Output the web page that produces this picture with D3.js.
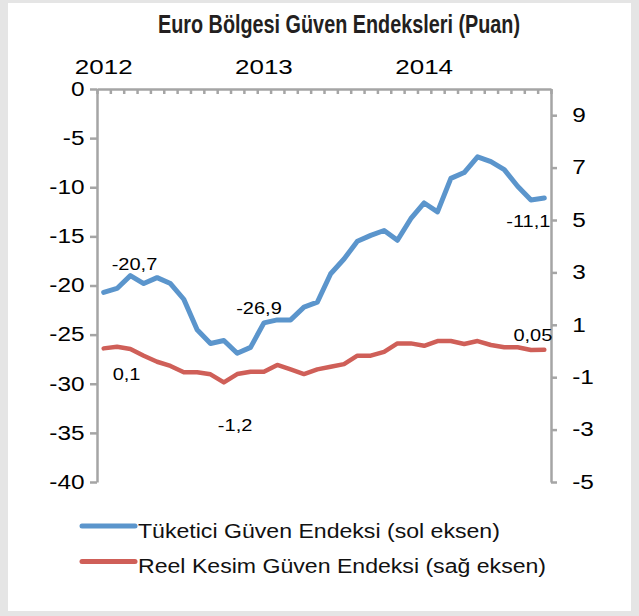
<!DOCTYPE html>
<html>
<head>
<meta charset="utf-8">
<script src="https://cdn.jsdelivr.net/npm/d3@7"></script>
<style>
  body { margin: 0; background: #fff; }
  text { font-family: "Liberation Sans", Arial, sans-serif; fill: #000; }
</style>
</head>
<body>
<script>
// monthly data, Jan 2012 - Oct 2014
const months = [
  "2012-01","2012-02","2012-03","2012-04","2012-05","2012-06","2012-07","2012-08","2012-09","2012-10","2012-11","2012-12",
  "2013-01","2013-02","2013-03","2013-04","2013-05","2013-06","2013-07","2013-08","2013-09","2013-10","2013-11","2013-12",
  "2014-01","2014-02","2014-03","2014-04","2014-05","2014-06","2014-07","2014-08","2014-09","2014-10"
];
// Tüketici Güven Endeksi (sol eksen)
const consumer = [-20.7,-20.3,-19.0,-19.8,-19.2,-19.8,-21.4,-24.5,-25.9,-25.6,-26.9,-26.3,
  -23.8,-23.5,-23.5,-22.2,-21.7,-18.8,-17.3,-15.5,-14.9,-14.4,-15.4,-13.2,
  -11.6,-12.5,-9.1,-8.5,-6.9,-7.4,-8.2,-9.9,-11.3,-11.1];
// Reel Kesim Güven Endeksi (sağ eksen)
const industry = [0.1,0.16,0.08,-0.18,-0.41,-0.57,-0.81,-0.81,-0.89,-1.2,-0.88,-0.79,
  -0.79,-0.53,-0.7,-0.88,-0.7,-0.6,-0.5,-0.18,-0.18,-0.03,0.29,0.29,
  0.2,0.38,0.38,0.27,0.38,0.23,0.14,0.14,0.04,0.05];
const yearLabels = [["2012-01","2012"],["2013-01","2013"],["2014-01","2014"]];
const leftTicks = [0,-5,-10,-15,-20,-25,-30,-35,-40];
const rightTicks = [9,7,5,3,1,-1,-3,-5];
const seriesNames = ["Tüketici Güven Endeksi (sol eksen)","Reel Kesim Güven Endeksi (sağ eksen)"];
const colors = ["#5b95cc","#cf5f58"];

const W = 639, H = 616;
const plot = {left: 97, right: 551, top: 89, bottom: 482};
const stretch = 1.25; // the text in the original is drawn wide

const svg = d3.select("body").append("svg")
    .attr("width", W)
    .attr("height", H);

// grey frame
svg.append("rect").attr("width", W).attr("height", H).attr("fill", "#e5e5e5");
svg.append("rect").attr("x", 8).attr("y", 3).attr("width", 623).attr("height", 608).attr("fill", "#fff");

// title
svg.append("text")
    .attr("x", 339).attr("y", 33)
    .attr("text-anchor", "middle")
    .attr("textLength", 362)
    .attr("lengthAdjust", "spacingAndGlyphs")
    .style("font-family", "'Liberation Sans Narrow', 'Arial Narrow', 'Liberation Sans', sans-serif")
    .style("font-weight", "bold")
    .style("font-size", "25px")
    .style("fill", "#231f20")
    .text("Euro Bölgesi Güven Endeksleri (Puan)");

// scales
const x = d3.scaleBand().domain(months).range([plot.left, plot.right]);
const cx = d => x(d) + x.bandwidth() / 2;
const xi = d3.scaleLinear().domain([0, months.length]).range([plot.left, plot.right]);
const yL = d3.scaleLinear().domain([-40, 0]).range([plot.bottom, plot.top]);
const yR = d3.scaleLinear().domain([-5, 10]).range([plot.bottom, plot.top]);

const axisColor = "#a5a5a5";
const plain = d => String(d); // hyphen minus, as in the original
function styleAxis(g) {
  g.selectAll("path, line").attr("stroke", axisColor).attr("stroke-width", 2.5);
  g.selectAll("text")
      .attr("fill", "#000")
      .style("font-size", "19.5px")
      .attr("transform", `scale(${stretch},1)`);
}

// top axis with month ticks
svg.append("g")
    .attr("transform", `translate(0,${plot.top})`)
    .call(d3.axisBottom(xi).tickValues(d3.range(months.length + 1)).tickSize(5).tickSizeOuter(0).tickFormat(""))
    .call(styleAxis);

// left axis
svg.append("g")
    .attr("transform", `translate(${plot.left},0)`)
    .call(d3.axisLeft(yL).tickValues(leftTicks).tickSize(7).tickSizeOuter(0).tickPadding(3).tickFormat(plain))
    .call(styleAxis);

// right axis
svg.append("g")
    .attr("transform", `translate(${plot.right},0)`)
    .call(d3.axisRight(yR).tickValues(rightTicks).tickSize(6).tickSizeOuter(0).tickPadding(11).tickFormat(plain))
    .call(styleAxis);

// year labels above the top axis
svg.selectAll(".year")
    .data(yearLabels)
    .join("text")
    .attr("class", "year")
    .attr("transform", d => `translate(${cx(d[0])},74) scale(1.3,1)`)
    .attr("text-anchor", "middle")
    .style("font-size", "20px")
    .text(d => d[1]);

// lines
const lineL = d3.line().x((d, i) => cx(months[i])).y(d => yL(d));
const lineR = d3.line().x((d, i) => cx(months[i])).y(d => yR(d));

svg.append("path")
    .datum(industry)
    .attr("d", lineR)
    .attr("fill", "none")
    .attr("stroke", colors[1])
    .attr("stroke-width", 4.5)
    .attr("stroke-linejoin", "round")
    .attr("stroke-linecap", "round");

svg.append("path")
    .datum(consumer)
    .attr("d", lineL)
    .attr("fill", "none")
    .attr("stroke", colors[0])
    .attr("stroke-width", 5)
    .attr("stroke-linejoin", "round")
    .attr("stroke-linecap", "round");

// value labels
const notes = [
  {s: "c", i: 0, dx: 8, dy: -22, anchor: "start"},
  {s: "c", i: 10, dx: -1, dy: -39, anchor: "start"},
  {s: "c", i: 33, dx: 6, dy: 29, anchor: "end"},
  {s: "r", i: 0, dx: 9, dy: 32, anchor: "start"},
  {s: "r", i: 9, dx: -6, dy: 49, anchor: "start"},
  {s: "r", i: 33, dx: 8, dy: -9, anchor: "end"}
];
const fmt = v => String(v).replace(".", ",");
svg.selectAll(".note")
    .data(notes)
    .join("text")
    .attr("class", "note")
    .attr("transform", d => {
      const px = cx(months[d.i]) + d.dx;
      const py = (d.s === "c" ? yL(consumer[d.i]) : yR(industry[d.i])) + d.dy;
      return `translate(${px},${py}) scale(${stretch},1)`;
    })
    .attr("text-anchor", d => d.anchor)
    .style("font-size", "16px")
    .text(d => fmt(d.s === "c" ? consumer[d.i] : industry[d.i]));

// legend
const legend = svg.append("g").attr("transform", "translate(82,526)");
const items = legend.selectAll("g")
    .data(seriesNames)
    .join("g")
    .attr("transform", (d, i) => `translate(0,${i * 35.5})`);
items.append("line")
    .attr("x1", 0).attr("x2", 53)
    .attr("stroke", (d, i) => colors[i])
    .attr("stroke-width", 5)
    .attr("stroke-linecap", "round");
items.append("text")
    .attr("transform", "translate(56,11.5) scale(1.1,1)")
    .style("font-size", "21px")
    .style("fill", "#111")
    .text(d => d);
</script>
</body>
</html>
